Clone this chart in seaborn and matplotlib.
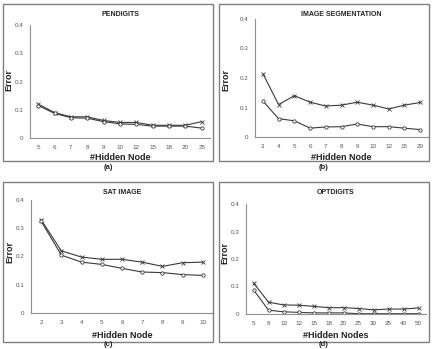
import matplotlib
matplotlib.use("Agg")
import matplotlib.pyplot as plt
from matplotlib.patches import Rectangle
import seaborn as sns
import pandas as pd

# ---- data ----
pen_nodes = ["5", "6", "7", "8", "9", "10", "12", "15", "18", "20", "25"]
pen_upper = [0.120, 0.090, 0.075, 0.075, 0.062, 0.055, 0.055, 0.045, 0.045, 0.045, 0.058]
pen_lower = [0.115, 0.087, 0.072, 0.070, 0.058, 0.050, 0.048, 0.042, 0.042, 0.042, 0.035]

seg_nodes = ["3", "4", "5", "6", "7", "8", "9", "10", "12", "15", "20"]
seg_upper = [0.215, 0.110, 0.140, 0.118, 0.105, 0.108, 0.118, 0.108, 0.095, 0.108, 0.117]
seg_lower = [0.122, 0.062, 0.055, 0.030, 0.034, 0.035, 0.044, 0.035, 0.035, 0.030, 0.025]

sat_nodes = ["2", "3", "4", "5", "6", "7", "8", "9", "10"]
sat_upper = [0.330, 0.220, 0.198, 0.190, 0.190, 0.180, 0.165, 0.178, 0.180]
sat_lower = [0.325, 0.205, 0.180, 0.172, 0.158, 0.145, 0.143, 0.136, 0.133]

opt_nodes = ["5", "8", "10", "12", "15", "18", "20", "25", "30", "35", "40", "50"]
opt_upper = [0.113, 0.043, 0.033, 0.032, 0.028, 0.023, 0.023, 0.020, 0.015, 0.018, 0.018, 0.022]
opt_lower = [0.088, 0.014, 0.008, 0.006, 0.004, 0.004, 0.004, 0.001, 0.001, 0.001, 0.001, 0.001]

titles = ["PENDIGITS", "IMAGE SEGMENTATION", "SAT IMAGE", "OPTDIGITS"]
xlabels = ["#Hidden Node", "#Hidden Node", "#Hidden Node", "#Hidden Nodes"]
ylabel = "Error"
captions = ["(a)", "(b)", "(c)", "(d)"]
yticks = [0, 0.1, 0.2, 0.3, 0.4]
ytick_labels = ["0", "0.1", "0.2", "0.3", "0.4"]

W, H = 432, 349
sns.set_theme(style="white")
plt.rcParams["font.family"] = ["Liberation Sans", "DejaVu Sans"]
fig = plt.figure(figsize=(W / 100, H / 100), dpi=100)
fig.patch.set_facecolor("white")


def px_rect(x0, y0, x1, y1):
    return [x0 / W, 1 - y1 / H, (x1 - x0) / W, (y1 - y0) / H]


panels = [
    dict(nodes=pen_nodes, up=pen_upper, lo=pen_lower,
         box=(3, 4, 213, 161), ax=(30, 25, 210, 138), title_y=15, xl_y=157,
         yl=(9, 80), cap=(108, 168)),
    dict(nodes=seg_nodes, up=seg_upper, lo=seg_lower,
         box=(219, 4, 429, 161), ax=(255, 19, 428, 137), title_y=14, xl_y=157,
         yl=(226, 80), cap=(324, 168)),
    dict(nodes=sat_nodes, up=sat_upper, lo=sat_lower,
         box=(3, 182, 213, 342), ax=(31, 200, 213, 313), title_y=193, xl_y=336,
         yl=(10, 252), cap=(108, 345)),
    dict(nodes=opt_nodes, up=opt_upper, lo=opt_lower,
         box=(219, 182, 429, 342), ax=(246, 204, 426, 314), title_y=193, xl_y=336,
         yl=(225, 253), cap=(324, 345)),
]

line_color = "#3a3a3a"
for i, p in enumerate(panels):
    bx0, by0, bx1, by1 = p["box"]
    fig.patches.append(Rectangle((bx0 / W, 1 - by1 / H), (bx1 - bx0) / W, (by1 - by0) / H,
                                 transform=fig.transFigure, fill=False,
                                 edgecolor="#808080", linewidth=1.0))
    ax = fig.add_axes(px_rect(*p["ax"]))
    df = pd.DataFrame({
        "nodes": p["nodes"] * 2,
        "err": p["up"] + p["lo"],
        "series": ["upper"] * len(p["nodes"]) + ["lower"] * len(p["nodes"]),
    })
    sns.pointplot(data=df, x="nodes", y="err", hue="series", order=p["nodes"],
                  hue_order=["upper", "lower"], markers=["x", "o"], linestyles=["-", "-"],
                  palette=[line_color, line_color], markersize=2.4, linewidth=0.8,
                  markerfacecolor="white", markeredgewidth=0.6,
                  legend=False, ax=ax, errorbar=None)
    ax.set_xlim(-0.5, len(p["nodes"]) - 0.5)
    ax.set_ylim(0, 0.4)
    ax.set_yticks(yticks)
    ax.set_yticklabels(ytick_labels)
    for s in ["top", "right"]:
        ax.spines[s].set_visible(False)
    for s in ["left", "bottom"]:
        ax.spines[s].set_color("#909090")
        ax.spines[s].set_linewidth(0.8)
    ax.tick_params(axis="both", length=0, labelsize=4.5, labelcolor="#555555")
    ax.tick_params(axis="x", pad=5)
    ax.tick_params(axis="y", pad=5)
    ax.set_xlabel("")
    ax.set_ylabel("")
    ax.set_facecolor("white")
    ax_cx = (p["ax"][0] + p["ax"][2]) / 2
    fig.text(ax_cx / W, 1 - p["title_y"] / H, titles[i], ha="center", va="center",
             fontsize=5, fontweight="bold", color="#222222")
    fig.text(ax_cx / W, 1 - p["xl_y"] / H, xlabels[i], ha="center", va="center",
             fontsize=6.5, fontweight="bold", color="#222222")
    fig.text(p["yl"][0] / W, 1 - p["yl"][1] / H, ylabel, ha="center", va="center",
             rotation=90, fontsize=6.5, fontweight="bold", color="#222222")
    fig.text(p["cap"][0] / W, 1 - p["cap"][1] / H, captions[i], ha="center", va="center",
             fontsize=5.5, fontweight="bold", color="#222222")

fig.savefig("out.png", dpi=100, facecolor="white")
